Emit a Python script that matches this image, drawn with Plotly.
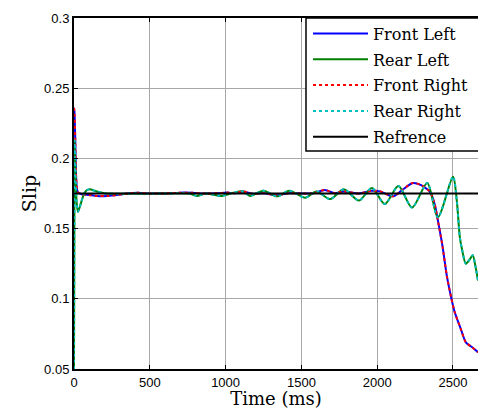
import plotly.graph_objects as go

# ---- data ----
t_front = [0, 3, 8, 15, 25, 50, 100, 150, 220, 300, 350, 420, 500, 600, 700, 780,
           850, 950, 1010, 1060, 1115, 1180, 1250, 1340, 1420, 1500, 1580, 1655,
           1720, 1780, 1880, 1965, 2020, 2105, 2160, 2235, 2290, 2330, 2350, 2380,
           2400, 2430, 2460, 2490, 2510, 2550, 2585, 2620, 2665]
front_left = [0.236, 0.233, 0.215, 0.185, 0.176, 0.1745, 0.174, 0.1733, 0.1732, 0.1742,
              0.175, 0.1755, 0.175, 0.175, 0.1756, 0.1755, 0.175, 0.1752, 0.1757, 0.1752,
              0.1765, 0.1748, 0.1752, 0.1738, 0.1752, 0.175, 0.1752, 0.1775, 0.1752,
              0.1765, 0.175, 0.177, 0.1765, 0.173, 0.177, 0.1825, 0.181, 0.178, 0.176,
              0.167, 0.156, 0.138, 0.116, 0.100, 0.091, 0.079, 0.069, 0.066, 0.062]
front_right = [0.236, 0.233, 0.215, 0.185, 0.176, 0.1745, 0.174, 0.1733, 0.1732, 0.1742,
               0.175, 0.1755, 0.175, 0.175, 0.1756, 0.1755, 0.175, 0.1752, 0.1757, 0.1752,
               0.1765, 0.1748, 0.1752, 0.1738, 0.1752, 0.175, 0.1752, 0.1775, 0.1752,
               0.1765, 0.175, 0.177, 0.1765, 0.173, 0.177, 0.1825, 0.181, 0.178, 0.176,
               0.167, 0.156, 0.138, 0.116, 0.100, 0.091, 0.079, 0.069, 0.066, 0.062]

t_rear = [0, 2, 5, 10, 18, 26, 40, 60, 80, 105, 140, 200, 300, 400, 500, 600, 700,
          760, 810, 870, 975, 1050, 1115, 1160, 1250, 1340, 1420, 1525, 1600, 1690,
          1780, 1880, 1965, 2050, 2140, 2230, 2330, 2400, 2500, 2525, 2545, 2560,
          2585, 2610, 2630, 2650, 2665]
rear_left = [0.05, 0.13, 0.213, 0.19, 0.168, 0.162, 0.166, 0.173, 0.177, 0.178, 0.1768,
             0.1752, 0.1748, 0.175, 0.1748, 0.175, 0.1752, 0.175, 0.1733, 0.175, 0.1733,
             0.1755, 0.1765, 0.1733, 0.177, 0.173, 0.177, 0.172, 0.1765, 0.171, 0.178,
             0.170, 0.179, 0.1675, 0.1803, 0.165, 0.1825, 0.158, 0.187, 0.170, 0.144,
             0.135, 0.125, 0.128, 0.131, 0.122, 0.113]
rear_right = [0.05, 0.13, 0.213, 0.19, 0.168, 0.162, 0.166, 0.173, 0.177, 0.178, 0.1768,
              0.1752, 0.1748, 0.175, 0.1748, 0.175, 0.1752, 0.175, 0.1733, 0.175, 0.1733,
              0.1755, 0.1765, 0.1733, 0.177, 0.173, 0.177, 0.172, 0.1765, 0.171, 0.178,
              0.170, 0.179, 0.1675, 0.1803, 0.165, 0.1825, 0.158, 0.187, 0.170, 0.144,
              0.135, 0.125, 0.128, 0.131, 0.122, 0.113]

t_ref = [0, 2665]
reference = [0.175, 0.175]

x_ticks = [0, 500, 1000, 1500, 2000, 2500]
y_ticks = [0.05, 0.1, 0.15, 0.2, 0.25, 0.3]
y_tick_labels = ["0.05", "0.1", "0.15", "0.2", "0.25", "0.3"]

# ---- figure ----
fig = go.Figure()
series = [
    ("Front Left", t_front, front_left, "#0000FF", "solid"),
    ("Rear Left", t_rear, rear_left, "#008000", "solid"),
    ("Front Right", t_front, front_right, "#FF0000", "dot"),
    ("Rear Right", t_rear, rear_right, "#00BFBF", "dot"),
]
for i, (name, tx, ty, col, dash) in enumerate(series):
    fig.add_trace(go.Scatter(
        x=tx, y=ty, name=name, mode="lines", legendgroup=str(i),
        line=dict(color=col, width=2, dash=dash, shape="spline", smoothing=0.8)))
fig.add_trace(go.Scatter(x=t_ref, y=reference, name="Refrence", mode="lines",
                         legendgroup="ref", line=dict(color="black", width=2)))

L, T, B = 74, 18, 40
W, H = 478, 409
plot_w = W - L
plot_h = H - T - B

box_x0 = (306 - L) / plot_w
box_y0 = (H - B - 151) / plot_h

fig.update_layout(
    template="none",
    width=W, height=H,
    margin=dict(l=L, r=0, t=T, b=B, pad=0, autoexpand=False),
    paper_bgcolor="white", plot_bgcolor="white",
    font=dict(family="Liberation Sans", size=13, color="black"),
    showlegend=True,
    legend=dict(
        x=box_x0 + 0.005, y=1.004, xanchor="left", yanchor="top",
        bgcolor="rgba(0,0,0,0)", borderwidth=0,
        font=dict(family="DejaVu Serif", size=16, color="black"),
        traceorder="grouped", tracegroupgap=2, itemwidth=55,
    ),
    shapes=[dict(type="rect", xref="paper", yref="paper",
                 x0=box_x0, x1=1.2, y0=box_y0, y1=1.0,
                 line=dict(color="black", width=1.5), fillcolor="white",
                 layer="above")],
)

fig.update_xaxes(
    range=[0, 2665], tickvals=x_ticks, ticks="inside", ticklen=4,
    tickcolor="black", showline=True, linecolor="black", linewidth=2,
    mirror="ticks", showgrid=True, gridcolor="#a8a8a8", gridwidth=1,
    zeroline=False, automargin=False,
    tickfont=dict(family="Liberation Sans", size=13),
    title=dict(text="Time (ms)", standoff=0,
               font=dict(family="DejaVu Serif", size=18)),
)
fig.update_yaxes(
    range=[0.05, 0.3], tickvals=y_ticks, ticktext=y_tick_labels,
    ticks="inside", ticklen=4, tickcolor="black", showline=True,
    linecolor="black", linewidth=2, mirror=False, showgrid=True,
    gridcolor="#a8a8a8", gridwidth=1, zeroline=False, automargin=False,
    tickfont=dict(family="Liberation Sans", size=13),
    title=dict(text="Slip", standoff=2,
               font=dict(family="DejaVu Serif", size=19)),
)

fig.write_html("out.html", config={"displayModeBar": False})

# remove the default page margin so the figure sits at the window's corner
with open("out.html", "r", encoding="utf-8") as f:
    html = f.read()
html = html.replace("<head>", "<head><style>html,body{margin:0;padding:0;overflow:hidden;}</style>", 1)
with open("out.html", "w", encoding="utf-8") as f:
    f.write(html)
